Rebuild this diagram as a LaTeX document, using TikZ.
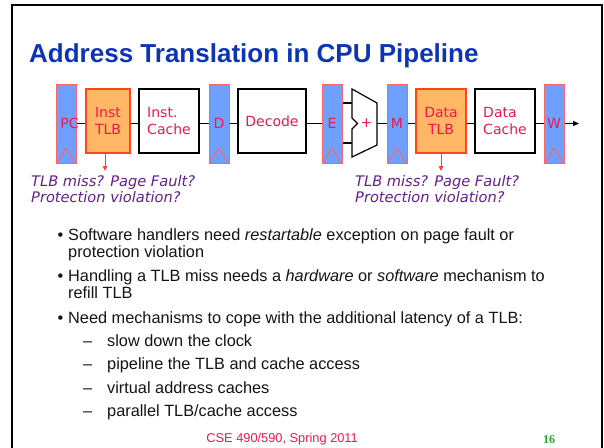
\documentclass[tikz,border=0pt]{standalone}
\usepackage{fontspec}
\setmainfont{Liberation Sans}
\newfontfamily\vfont{DejaVu Sans}
\newfontfamily\numfont{Liberation Serif}
\usetikzlibrary{arrows.meta}
\definecolor{titleblue}{RGB}{14,52,182}
\definecolor{accred}{RGB}{240,24,72}
\definecolor{notepurple}{RGB}{100,30,145}
\definecolor{regfill}{RGB}{111,160,255}
\definecolor{regline}{RGB}{255,100,100}
\definecolor{tlbfill}{RGB}{255,183,102}
\definecolor{tlbline}{RGB}{255,70,20}
\definecolor{pagegreen}{RGB}{30,175,30}
\definecolor{bodytext}{RGB}{20,20,20}
\begin{document}
\begin{tikzpicture}[x=1pt,y=-1pt,
  reg/.style={draw=regline, fill=regfill, line width=1pt, minimum width=20pt,
    minimum height=79pt, inner sep=0pt, text=accred,
    font=\vfont\fontsize{14}{17}\selectfont,
    path picture={\draw[regline, line width=1pt]
      ([xshift=1pt]path picture bounding box.south west) --
      ([yshift=15pt]path picture bounding box.south) --
      ([xshift=-1pt]path picture bounding box.south east);}},
  tlb/.style={draw=tlbline, fill=tlbfill, line width=1.2pt, minimum height=64pt,
    inner sep=0pt, text=accred, align=center,
    font=\vfont\fontsize{14}{17.5}\selectfont},
  unit/.style={draw=black, fill=white, line width=1.2pt, minimum height=64pt,
    inner sep=0pt, text=accred, align=left,
    font=\vfont\fontsize{14}{17.5}\selectfont},
  wire/.style={draw=black, line width=1.2pt},
  fault/.style={draw=tlbline, line width=1pt, -{Triangle[length=5pt,width=4.5pt]}},
  note/.style={anchor=base west, inner sep=0pt, text=notepurple,
    font=\vfont\itshape\fontsize{14.6}{17}\selectfont},
  body/.style={anchor=base west, inner sep=0pt, text=bodytext,
    font=\fontsize{16.3}{19}\selectfont},
]
\useasboundingbox (0,0) rectangle (604,447);
\clip (0,0) rectangle (604,447);

% slide frame
\draw[line width=2pt] (12,470) -- (12,5) -- (602,5) -- (602,470);

% title
\node[anchor=base west, inner sep=0pt, text=titleblue,
  font=\bfseries\fontsize{26}{30}\selectfont] (title) at (29,62)
  {Address Translation in CPU Pipeline};

% pipeline registers
\node[reg] (pc) at (66,123.5) {\makebox[0pt][c]{\hspace*{7pt}PC}};
\node[reg] (d)  at (219,123.5) {D};
\node[reg] (e)  at (332,123.5) {E};
\node[reg] (m)  at (397,123.5) {M};
\node[reg] (w)  at (554,123.5) {W};

% stage units
\node[tlb, minimum width=44pt] (itlb) at (108,121) {Inst\\TLB};
\node[unit, minimum width=60pt] (icache) at (169,121) {Inst.\\Cache};
\node[unit, minimum width=68pt] (dec) at (272,121) {Decode};
\node[tlb, minimum width=50pt] (dtlb) at (441,121) {Data\\TLB};
\node[unit, minimum width=60pt] (dcache) at (505,121) {Data\\Cache};

% adder
\coordinate (alua) at (352,103);
\coordinate (alub) at (352,143);
\coordinate (aluo) at (377,123.5);
\draw[line width=1.2pt, line join=miter]
  (352,89) -- (377,103) -- (377,145) -- (352,157) -- (352,129)
  -- (357.5,123.5) -- (352,118) -- cycle;
\node[text=accred, inner sep=0pt, font=\vfont\fontsize{14}{17}\selectfont]
  (plus) at (366.5,123.5) {+};

% datapath wires
\draw[wire] (pc.east) -- (pc.east -| itlb.west);
\draw[wire] (itlb.east |- pc.east) -- (icache.west |- pc.east);
\draw[wire] (icache.east |- d.west) -- (d.west);
\draw[wire] (d.east) -- (d.east -| dec.west);
\draw[wire] (dec.east |- e.west) -- (e.west);
\draw[wire] (e.east |- alua) -- (alua);
\draw[wire] (e.east |- alub) -- (alub);
\draw[wire] (aluo) -- (m.west);
\draw[wire] (m.east) -- (m.east -| dtlb.west);
\draw[wire] (dtlb.east |- m.east) -- (dcache.west |- m.east);
\draw[wire] (dcache.east |- w.west) -- (w.west);
\coordinate (out) at (579,123.5);
\draw[wire, -{Triangle[length=6pt,width=5pt]}] (w.east) -- (out);

% exception outputs of the TLBs
\coordinate (ifault) at (105,171);
\coordinate (dfault) at (441,171);
\draw[fault] (ifault |- itlb.south) -- (ifault);
\draw[fault] (dfault |- dtlb.south) -- (dfault);

\node[note] (n1a) at (31,186) {TLB miss? Page Fault?};
\node[note] (n1b) at (31,202.5) {Protection violation?};
\node[note] (n2a) at (355,186) {TLB miss? Page Fault?};
\node[note] (n2b) at (355,202.5) {Protection violation?};

% bullet list
\foreach \y in {240,281,323} \node[body] at (57.5,\y) {\textbullet};
\node[body] (b1a) at (68,240) {Software handlers need \textit{restartable} exception on page fault or};
\node[body] (b1b) at (68,257) {protection violation};
\node[body] (b2a) at (68,281) {Handling a TLB miss needs a \textit{hardware} or \textit{software} mechanism to};
\node[body] (b2b) at (68,298) {refill TLB};
\node[body] (b3)  at (68,323) {Need mechanisms to cope with the additional latency of a TLB:};
\foreach \y in {346,369.5,393,416} \node[body] at (83,\y) {--};
\node[body] (s1) at (107,346) {slow down the clock};
\node[body] (s2) at (107,369.5) {pipeline the TLB and cache access};
\node[body] (s3) at (107,393) {virtual address caches};
\node[body] (s4) at (107,416) {parallel TLB/cache access};

% footer
\node[anchor=base east, inner sep=0pt, text=accred,
  font=\fontsize{12.8}{15}\selectfont] (foot) at (358,442)
  {CSE 490/590, Spring 2011};
\node[anchor=base west, inner sep=0pt, text=pagegreen,
  font=\numfont\bfseries\fontsize{12}{14}\selectfont] (page) at (543,443) {16};
\end{tikzpicture}
\end{document}
